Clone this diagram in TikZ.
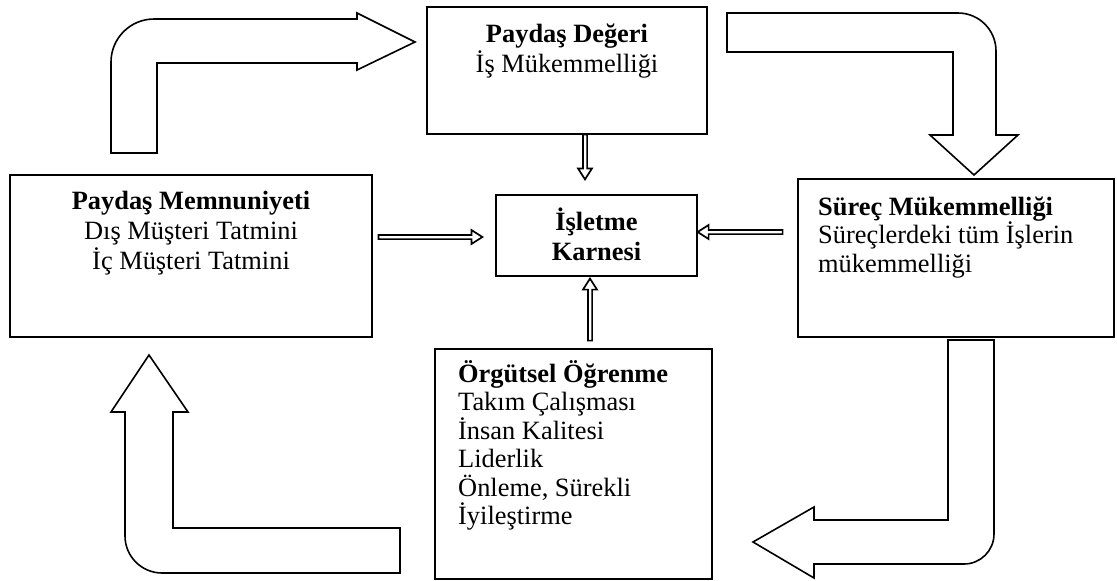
\documentclass[tikz,border=0pt]{standalone}
\usepackage{fontspec}
\setmainfont{Liberation Serif}
\usetikzlibrary{calc}
% small outlined block arrow: tip at #1, direction #2 (degrees), length #3
\newcommand\feedarrow[3]{%
  \draw[feedshape, shift={#1}, rotate=#2]
    (0,0) -- (-11,7) -- (-11,2.1) -- (-#3,2.1) -- (-#3,-2.1)
    -- (-11,-2.1) -- (-11,-7) -- cycle;}
\begin{document}
\begin{tikzpicture}[x=1pt,y=-1pt,
  box/.style={draw, line width=1.2pt, inner sep=0pt},
  txt/.style={font=\fontsize{26.4}{29.8}\selectfont, inner sep=0pt},
  txtl/.style={font=\fontsize{26.4}{28.5}\selectfont, inner sep=0pt,
    anchor=base west, align=left},
  bigarrow/.style={draw, line width=1.6pt, fill=white, line join=miter},
  feedshape/.style={draw, line width=1.7pt, fill=white, line join=miter}]
\useasboundingbox (0,0) rectangle (1117,581);

% boxes
\node[box, minimum width=280pt, minimum height=127pt] (pd) at (567,70.5) {};
\node[box, minimum width=362pt, minimum height=162pt] (pm) at (191,256) {};
\node[box, minimum width=201pt, minimum height=81pt]  (ik) at (596.5,235.5) {};
\node[box, minimum width=316pt, minimum height=158pt] (sm) at (956,258) {};
\node[box, minimum width=277pt, minimum height=230pt] (oo) at (573.5,464) {};

% box texts (anchored on the baseline of the last line)
\node[txt, anchor=base, align=center] (pdt) at (567,72)
  {\textbf{Paydaş Değeri}\\İş Mükemmelliği};
\node[txt, anchor=base, align=center] (pmt) at (191,269)
  {\textbf{Paydaş Memnuniyeti}\\Dış Müşteri Tatmini\\İç Müşteri Tatmini};
\node[txt, anchor=base, align=center] (ikt) at (596.5,260)
  {\textbf{İşletme}\\\textbf{Karnesi}};
\node[txtl] (smt) at (818,272)
  {\textbf{Süreç Mükemmelliği}\\Süreçlerdeki tüm İşlerin\\mükemmelliği};
\node[txtl] (oot) at (458,524.5)
  {\textbf{Örgütsel Öğrenme}\\Takım Çalışması\\İnsan Kalitesi\\Liderlik\\Önleme, Sürekli\\İyileştirme};

% feeds into the scorecard
\feedarrow{($(ik.north)+(-11.5,-15)$)}{-90}{45}
\feedarrow{($(ik.west)+(-13,1.5)$)}{0}{104}
\feedarrow{($(ik.east)+(0,-3.5)$)}{180}{85}
\feedarrow{($(ik.south)+(-6.5,2)$)}{90}{62}

% bent block arrows of the cycle
\draw[bigarrow] (111,153) -- (111,62)
  .. controls (111,38.3) and (130.3,19) .. (154,19)
  -- (357,19) -- (357,13) -- (415,42) -- (357,70) -- (357,63)
  -- (157,63) -- (157,153) -- cycle;
\draw[bigarrow] (727,13) -- (958,13)
  .. controls (979,13) and (996,30) .. (996,51)
  -- (996,135) -- (1018,135) -- (974,175) -- (930,135) -- (953,135)
  -- (953,52) -- (727,52) -- cycle;
\draw[bigarrow] (948,340) -- (994,340) -- (994,534)
  .. controls (994,550.6) and (980.6,564) .. (964,564)
  -- (814,564) -- (814,578) -- (753,542) -- (814,507) -- (814,520)
  -- (948,520) -- cycle;
\draw[bigarrow] (400,528) -- (400,573) -- (162,573)
  .. controls (141.6,573) and (125,556.4) .. (125,536)
  -- (125,412) -- (111,412) -- (149,355) -- (188,412) -- (173,412)
  -- (173,528) -- cycle;
\end{tikzpicture}
\end{document}
